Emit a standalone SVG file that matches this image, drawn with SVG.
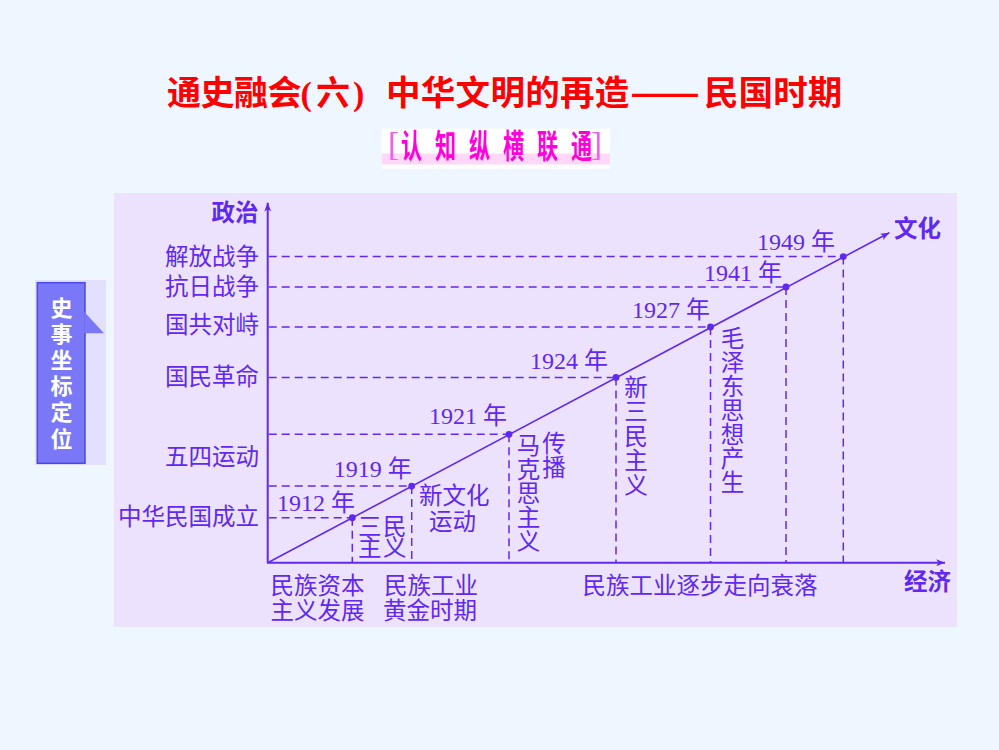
<svg xmlns="http://www.w3.org/2000/svg" width="999" height="750" viewBox="0 0 999 750">
<defs>
<style>
.cjk{font-family:"Noto Sans CJK SC","Noto Sans",sans-serif;}
.lbl{font-family:"Noto Sans CJK SC",sans-serif;font-size:23.5px;fill:#6028F0;}
.bold{font-weight:bold;}
.yr{font-family:"Liberation Serif","Noto Sans CJK SC",serif;font-size:24px;fill:#6028F0;text-anchor:end;}
.end{text-anchor:end;}
.mid{text-anchor:middle;}
.vert{writing-mode:vertical-rl;text-orientation:upright;}
.dash{stroke:#6028F0;stroke-width:1.5;stroke-dasharray:8 5;fill:none;}
.axis{stroke:#6028F0;stroke-width:2;fill:none;}
.dot{fill:#6028F0;}
</style>
<marker id="arr" viewBox="0 0 10 8" refX="10" refY="4" markerWidth="10" markerHeight="7" orient="auto" markerUnits="userSpaceOnUse">
<path d="M0,0 L10,4 L0,8 L2.5,4 z" fill="#6028F0"/>
</marker>
</defs>

<rect x="0" y="0" width="999" height="750" fill="#EEF6FF"/>

<g id="title">
<text class="cjk bold" y="104.6" font-size="34" fill="#FF0000" x="167 200.5 234 267.5">通史融会</text>
<text font-family="Liberation Serif,serif" font-weight="bold" font-size="34" fill="#FF0000" x="300.5" y="104.6">(</text>
<text class="cjk bold" font-size="34" fill="#FF0000" x="316" y="104.6">六</text>
<text font-family="Liberation Serif,serif" font-weight="bold" font-size="34" fill="#FF0000" x="353" y="104.6">)</text>
<text class="cjk bold" font-size="34.5" fill="#FF0000" y="104.6" x="386 420.8 455.6 490.4 525.2 560 594.8">中华文明的再造</text>
<text class="cjk bold" font-size="34.5" fill="#FF0000" x="630" y="104.6" textLength="70" lengthAdjust="spacingAndGlyphs">——</text>
<text class="cjk bold" font-size="34.5" fill="#FF0000" y="104.6" x="704 738.6 773.2 807.8">民国时期</text>
</g>

<g id="subtitle">
<rect x="381.7" y="128.7" width="228.3" height="40" fill="#FFFFFF"/>
<rect x="381.7" y="153.5" width="228.3" height="11" fill="#FFD8F7"/>
<text font-family="Liberation Serif,serif" font-size="33" fill="#F060E8" x="388" y="155">[</text>
<text font-family="Liberation Serif,serif" font-size="33" fill="#F060E8" x="591" y="155">]</text>
<text class="cjk bold" font-size="33" fill="#FF00DD" transform="scale(0.64,1)" y="157.7" x="626.7 679.8 733 786.1 839.2 892.3">认知纵横联通</text>
</g>

<g id="badge">
<rect x="35" y="280" width="71" height="185" fill="#E2E0FB"/>
<rect x="37.3" y="282.7" width="47.7" height="180.6" fill="#7A78F8" stroke="#4E48E6" stroke-width="1.5"/>
<path d="M84.2,311.7 L104,333.3 L84.2,333.3 z" fill="#7A78F8"/>
<text class="cjk bold vert" font-size="22" fill="#FFFFFF" x="61.5" y="296.2" letter-spacing="4.2">史事坐标定位</text>
</g>

<rect id="panel" x="114" y="193" width="843" height="434" fill="#ECE2FD"/>

<g id="connectors">
<line class="axis" x1="267.7" y1="563" x2="267.7" y2="202.7" marker-end="url(#arr)"/>
<line class="axis" x1="267" y1="562.7" x2="945" y2="562.7" marker-end="url(#arr)"/>
<line stroke="#6028F0" stroke-width="1.6" x1="267.7" y1="562.7" x2="889.3" y2="232.7" marker-end="url(#arr)"/>
<path class="dash" d="M268.7,517.7H352.3M352.3,517.7V562M268.7,486.1H411.7M411.7,486.1V562M268.7,434.3H509M509,434.3V562M268.7,377.4H616M616,377.4V562M268.7,327H710.5M710.5,327V562M268.7,287H786M786,287V562M268.7,256.6H843.3M843.3,256.6V562"/>
</g>

<g id="points">
<circle class="dot" cx="352.3" cy="517.7" r="3.4"/>
<circle class="dot" cx="411.7" cy="486.1" r="3.4"/>
<circle class="dot" cx="509" cy="434.3" r="3.4"/>
<circle class="dot" cx="616" cy="377.4" r="3.4"/>
<circle class="dot" cx="710.5" cy="327" r="3.4"/>
<circle class="dot" cx="786" cy="287" r="3.4"/>
<circle class="dot" cx="843.3" cy="256.6" r="3.4"/>
</g>

<g id="years">
<text class="yr" x="355" y="511">1912 年</text>
<text class="yr" x="411.7" y="476.5">1919 年</text>
<text class="yr" x="507" y="424">1921 年</text>
<text class="yr" x="608" y="369">1924 年</text>
<text class="yr" x="710" y="317.5">1927 年</text>
<text class="yr" x="782" y="280.5">1941 年</text>
<text class="yr" x="835" y="250">1949 年</text>
</g>

<g id="axis-labels">
<text class="lbl bold end" font-size="22.5" x="258.5" y="220.5">政治</text>
<text class="lbl bold" font-size="22" x="894" y="237">文化</text>
<text class="lbl bold" font-size="23.3" x="904" y="590">经济</text>
</g>

<g id="politics">
<text class="lbl end" x="259" y="264.5">解放战争</text>
<text class="lbl end" x="259" y="295">抗日战争</text>
<text class="lbl end" x="259" y="333">国共对峙</text>
<text class="lbl end" x="259" y="385">国民革命</text>
<text class="lbl end" x="259" y="464.5">五四运动</text>
<text class="lbl end" x="259" y="525">中华民国成立</text>
</g>

<g id="culture">
<text class="lbl" font-size="20.5" letter-spacing="1.5"><tspan x="358" y="534.5">三民</tspan><tspan x="358" y="555.5">主义</tspan></text>
<text class="lbl"><tspan x="419" y="503.5">新文化</tspan><tspan x="429" y="530">运动</tspan></text>
<text class="lbl vert" font-size="22" letter-spacing="0.5" x="528.5" y="433.3">马克思主义</text>
<text class="lbl vert" font-size="22.5" letter-spacing="0.5" x="554" y="431.2">传播</text>
<text class="lbl vert" font-size="23" letter-spacing="1" x="636" y="374.9">新三民主义</text>
<text class="lbl vert" font-size="22.5" letter-spacing="0.6" x="732.5" y="326.2">毛泽东思想产生</text>
</g>

<g id="economy">
<text class="lbl"><tspan x="270.5" y="593.5">民族资本</tspan><tspan x="270.5" y="618.5">主义发展</tspan></text>
<text class="lbl"><tspan x="384" y="593.5">民族工业</tspan><tspan x="383" y="618.5">黄金时期</tspan></text>
<text class="lbl" x="582.5" y="593.5" font-size="23.8">民族工业逐步走向衰落</text>
</g>
</svg>
